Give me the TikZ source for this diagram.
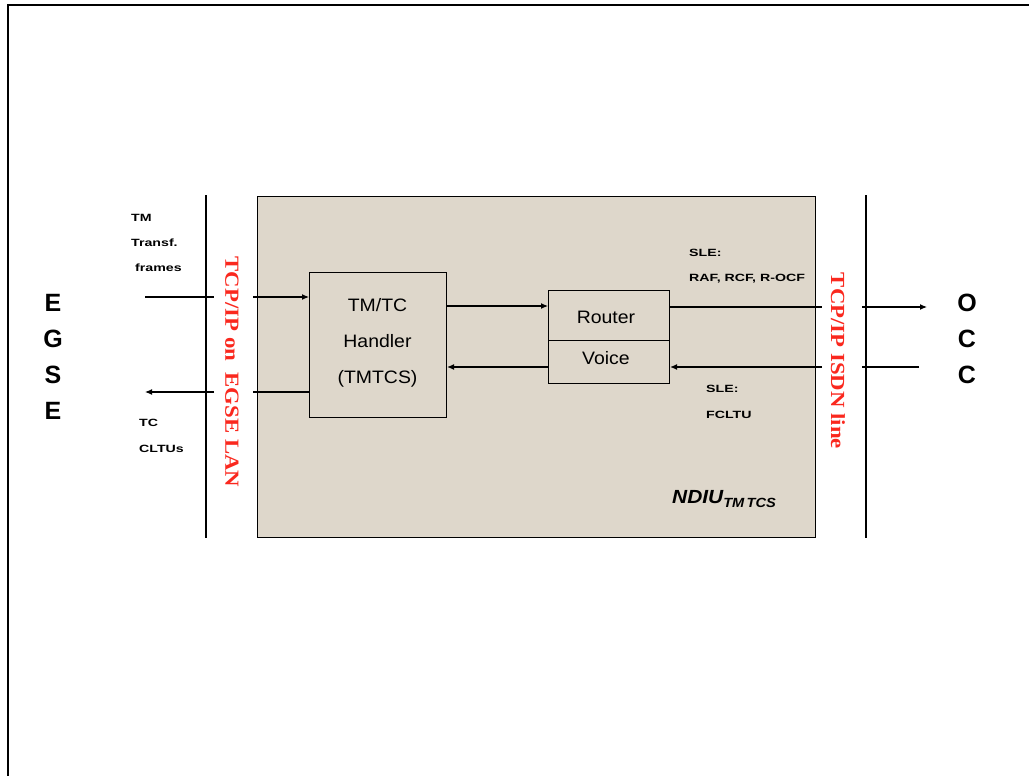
\documentclass[tikz,border=0pt]{standalone}
\usepackage{fontspec}
\setmainfont{Liberation Sans}
\newfontfamily\redserif[FakeStretch=1.14]{Liberation Serif}
\newfontfamily\widesans[FakeStretch=1.35]{Liberation Sans}
\newfontfamily\boxsans[FakeStretch=1.08]{Liberation Sans}
\newfontfamily\ndiusans[FakeStretch=1.1]{Liberation Sans}
\usetikzlibrary{arrows.meta}
\definecolor{beige}{RGB}{222,215,203}
\definecolor{redtxt}{RGB}{250,40,30}
\tikzset{
  box/.style={draw=black, line width=1.1pt, inner sep=0pt},
  conn/.style={draw=black, line width=1.1pt},
  arr/.style={conn, -{Latex[length=7pt,width=6pt]}},
  small/.style={font=\widesans\fontsize{10.5}{11}\selectfont\bfseries, anchor=west, inner sep=0pt},
  big/.style={font=\fontsize{25}{26}\selectfont\bfseries, inner sep=0pt},
  redlab/.style={font=\redserif\fontsize{20}{21}\selectfont\bfseries, text=redtxt, rotate=-90, inner sep=0pt},
  boxtxt/.style={font=\boxsans\fontsize{18}{36}\selectfont, align=center, inner sep=0pt}
}
\begin{document}
\begin{tikzpicture}[x=1pt,y=-1pt]
\useasboundingbox (0,0) rectangle (1029,776);
% frame
\draw[line width=1.6pt] (1029,5) -- (8,5) -- (8,776);
% vertical bus lines
\draw[line width=1.2pt] (206,195) -- (206,538);
\draw[line width=1.2pt] (866,195) -- (866,538);
% main NDIU box
\node[box, fill=beige, minimum width=558pt, minimum height=341pt, anchor=north west] (ndiu) at (257,196) {};
% handler
\node[box, fill=beige, minimum width=137pt, minimum height=145pt, anchor=north west] (hand) at (309,272) {};
\node[boxtxt] (handtxt) at (377.5,343) {TM/TC\\Handler\\(TMTCS)};
% router / voice
\node[box, minimum width=121pt, minimum height=50pt, anchor=north west] (router) at (548,290) {};
\node[boxtxt] (routertxt) at (606,317) {Router};
\node[box, minimum width=121pt, minimum height=43pt, anchor=north west] (voice) at (548,340) {};
\node[boxtxt] (voicetxt) at (606,358) {Voice};
% side letters
\node[big] (e1) at (53,303) {E};
\node[big] (g1) at (53,339) {G};
\node[big] (s1) at (53,375) {S};
\node[big] (e2) at (53,411) {E};
\node[big] (o1) at (967,303) {O};
\node[big] (c1) at (967,339) {C};
\node[big] (c2) at (967,375) {C};
% red labels
\node[redlab] (lan) at (232,372) {TCP/IP on\ \ EGSE LAN};
\node[redlab] (isdn) at (838,361) {TCP/IP ISDN line};
% small labels
\node[small] (tm) at (131,218) {TM};
\node[small] (transf) at (131,243) {Transf.};
\node[small] (frames) at (135,268) {frames};
\node[small] (tc) at (139,423) {TC};
\node[small] (cltu) at (139,449) {CLTUs};
\node[small] (sle1) at (689,253) {SLE:};
\node[small] (raf) at (689,279) {RAF, RCF, R-OCF};
\node[small] (sle2) at (706,389) {SLE:};
\node[small] (fcltu) at (706,415) {FCLTU};
\node[font=\ndiusans\fontsize{19}{20}\selectfont\bfseries\itshape, anchor=west, inner sep=0pt] (ndiulab) at (672,499) {NDIU\textsubscript{TM\,TCS}};
% connector coordinates
\coordinate (tmin) at (145,297);
\coordinate (tmg1) at (214,297);
\coordinate (tmg2) at (253,297);
\coordinate (tcout) at (145,392);
\coordinate (tcg1) at (214,392);
\coordinate (tcg2) at (253,392);
\coordinate (rg1) at (822,307);
\coordinate (rg2) at (862,307);
\coordinate (rout) at (927,307);
\coordinate (vg1) at (822,367);
\coordinate (vg2) at (862,367);
\coordinate (vin) at (919,367);
% connectors
\draw[conn] (tmin) -- (tmg1);
\draw[arr] (tmg2) -- (hand.west |- tmg2);
\draw[arr] (tcg1) -- (tcout);
\draw[conn] (hand.west |- tcg2) -- (tcg2);
\draw[arr] (hand.east |- 0,306) -- (router.west |- 0,306);
\draw[arr] (voice.west |- 0,367) -- (hand.east |- 0,367);
\draw[conn] (router.east |- rg1) -- (rg1);
\draw[arr] (rg2) -- (rout);
\draw[conn] (vin) -- (vg2);
\draw[arr] (vg1) -- (voice.east |- vg1);
\end{tikzpicture}
\end{document}
